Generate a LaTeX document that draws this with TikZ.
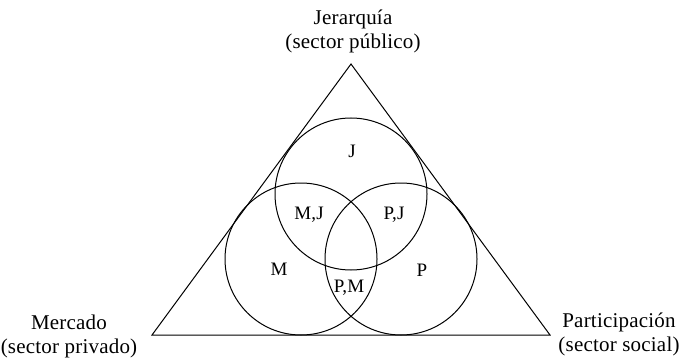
\documentclass[tikz,border=0pt]{standalone}
\usepackage{fontspec}
\setmainfont{Liberation Serif}[LetterSpace=1]
\begin{document}
\begin{tikzpicture}[x=1pt,y=1pt,line width=1pt,
    etiq/.style={font=\fontsize{21}{24}\selectfont,align=center,inner sep=0pt},
    zona/.style={font=\fontsize{19}{21}\selectfont,inner sep=0pt,anchor=base}]
    \useasboundingbox (0,0) rectangle (687,362);
    % Vertices del triangulo
    \coordinate (mer) at (152,27);
    \coordinate (par) at (550,27);
    \coordinate (jer) at (351,298);
    \draw (mer) -- (par) -- (jer) -- cycle;
    % Circulos J, M y P
    \draw (351,168) circle (76pt);
    \draw (301,103) circle (76pt);
    \draw (401,103) circle (76pt);
    % Zonas
    \node[zona] (j) at (352,205) {J};
    \node[zona] (mj) at (309,143) {M,J};
    \node[zona] (pj) at (394,143) {P,J};
    \node[zona] (m) at (279,87) {M};
    \node[zona] (p) at (422,86) {P};
    \node[zona] (pm) at (349,70) {P,M};
    % Sectores
    \node[etiq, anchor=base] (tjer) at (353,313) {Jerarquía\\(sector público)};
    \node[etiq, anchor=base] (tmer) at (69,9) {Mercado\\(sector privado)};
    \node[etiq, anchor=base] (tpar) at (619,11) {Participación\\(sector social)};
\end{tikzpicture}
\end{document}
